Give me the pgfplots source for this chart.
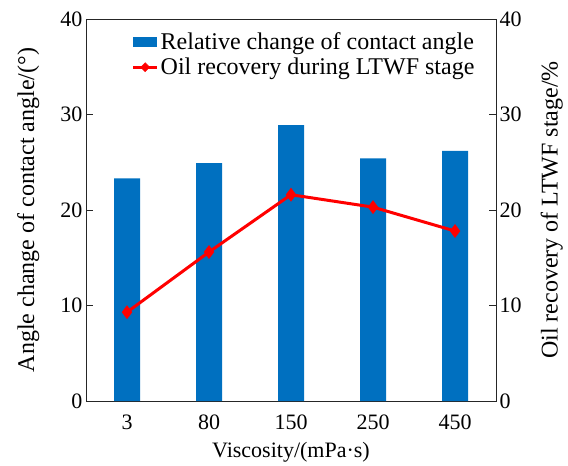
\documentclass[border=0pt]{standalone}
\usepackage{pgfplots}
\pgfplotsset{compat=1.18}
\usepackage{fontspec}
\setmainfont{Liberation Serif}
\definecolor{barblue}{RGB}{0,112,192}
\definecolor{linered}{RGB}{255,0,0}

\pgfplotsset{
  barlegend/.style={legend image code/.code={\fill[barblue] (0pt,-5pt) rectangle (24pt,5pt);}},
  linelegend/.style={legend image code/.code={%
    \draw[linered, line width=3pt] (0pt,0pt) -- (24pt,0pt);
    \fill[linered] (12pt,4.5pt) -- (16.5pt,0pt) -- (12pt,-4.5pt) -- (7.5pt,0pt) -- cycle;}},
  base/.style={
    scale only axis, width=410pt, height=382pt,
    xmin=-0.5, xmax=4.5, ymin=0, ymax=40,
    ytick={0,10,20,30,40},
    tick align=inside, major tick length=7pt,
    axis line style={line width=0.8pt, black!85},
    every tick/.style={line width=0.8pt, black!85},
    /pgf/number format/assume math mode=true,
    tick label style={font=\fontsize{22}{26}\selectfont},
    xlabel style={font=\fontsize{22}{26}\selectfont},
    ylabel style={font=\fontsize{24}{28}\selectfont},
  }
}

\begin{document}
\begin{tikzpicture}
\begin{axis}[base, name=main,
  xtick={0,1,2,3,4},
  xticklabels={3,80,150,250,450},
  xtick style={draw=none},
  xticklabel style={yshift=-10pt},
  ytick pos=left,
  xlabel={Viscosity/(mPa·s)},
  ylabel={Angle change of contact angle/(°)},
  xlabel style={at={(axis description cs:0.5,-0.133)}, anchor=center},
  ylabel style={at={(axis description cs:-0.141,0.5)}, anchor=center},
  legend style={draw=none, fill=none, at={(0.96,0.975)}, anchor=north east,
    font=\fontsize{24}{27}\selectfont, row sep=3pt,
    cells={anchor=west}},
]
\addplot[ybar, bar width=26pt, fill=barblue, draw=none, barlegend]
  coordinates {(0,23.3) (1,24.9) (2,28.9) (3,25.4) (4,26.2)};
\addlegendentry{Relative change of contact angle}
\addlegendimage{linelegend}
\addlegendentry{Oil recovery during LTWF stage}
\end{axis}
\begin{axis}[base,
  axis x line=none, axis y line*=right,
  ylabel={Oil recovery of LTWF stage/\%},
  ylabel style={at={(axis description cs:1.136,0.5)}, anchor=center},
]
\addplot[linered, line width=3pt, mark=diamond*, mark size=4.5pt,
  mark options={fill=linered}]
  coordinates {(0,9.3) (1,15.6) (2,21.6) (3,20.3) (4,17.8)};
\end{axis}
\path ([shift={(-86pt,-57pt)}]main.south west) rectangle ([shift={(72pt,19pt)}]main.north east);
\end{tikzpicture}
\end{document}
